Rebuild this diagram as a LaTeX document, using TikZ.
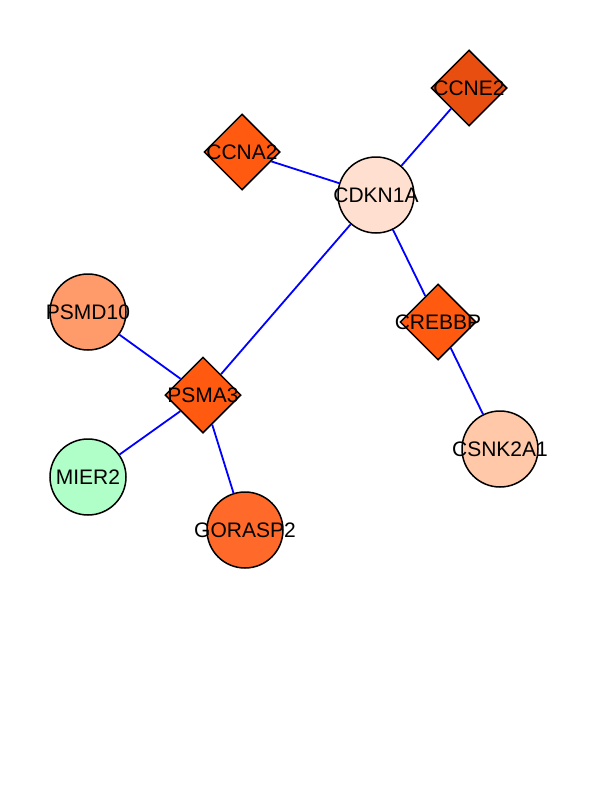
\documentclass[tikz,border=0pt]{standalone}
\usepackage{fontspec}
\setmainfont{Liberation Sans}
\usetikzlibrary{shapes.geometric}
\definecolor{cdknfill}{RGB}{255,224,208}
\definecolor{ccnefill}{RGB}{232,78,16}
\definecolor{ccnafill}{RGB}{255,90,16}
\definecolor{psmdfill}{RGB}{255,154,106}
\definecolor{mierfill}{RGB}{176,255,200}
\definecolor{gorafill}{RGB}{255,106,42}
\definecolor{csnkfill}{RGB}{255,200,168}
\begin{document}
\begin{tikzpicture}[x=1pt,y=-1pt,line width=1.5pt,
  every label/.style={font=\fontsize{21}{25}\selectfont,inner sep=0pt},
  gene/.style={draw=black,inner sep=0pt},
  genecirc/.style={gene,circle,minimum size=76pt},
  genediam/.style={gene,diamond,minimum size=76pt},
  link/.style={draw=blue,line width=1.8pt}]
\useasboundingbox (0,0) rectangle (612,792);
\fill[white] (0,0) rectangle (612,792);
\node[genecirc,fill=cdknfill,label=center:CDKN1A] (cdkn1a) at (376,195) {};
\node[genediam,fill=ccnefill,label=center:CCNE2] (ccne2) at (469,88) {};
\node[genediam,fill=ccnafill,label=center:CCNA2] (ccna2) at (242,152) {};
\node[genecirc,fill=psmdfill,label=center:PSMD10] (psmd10) at (88,312) {};
\node[genediam,fill=ccnafill,label=center:PSMA3] (psma3) at (203,395) {};
\node[genecirc,fill=mierfill,label=center:MIER2] (mier2) at (88,477) {};
\node[genecirc,fill=gorafill,label=center:GORASP2] (gorasp2) at (245,530) {};
\node[genediam,fill=ccnafill,label=center:CREBBP] (crebbp) at (438,322) {};
\node[genecirc,fill=csnkfill,label=center:CSNK2A1] (csnk2a1) at (500,449) {};
\draw[link] (cdkn1a) -- (ccne2);
\draw[link] (cdkn1a) -- (ccna2);
\draw[link] (cdkn1a) -- (psma3);
\draw[link] (cdkn1a) -- (crebbp);
\draw[link] (crebbp) -- (csnk2a1);
\draw[link] (psma3) -- (psmd10);
\draw[link] (psma3) -- (mier2);
\draw[link] (psma3) -- (gorasp2);
\end{tikzpicture}
\end{document}
